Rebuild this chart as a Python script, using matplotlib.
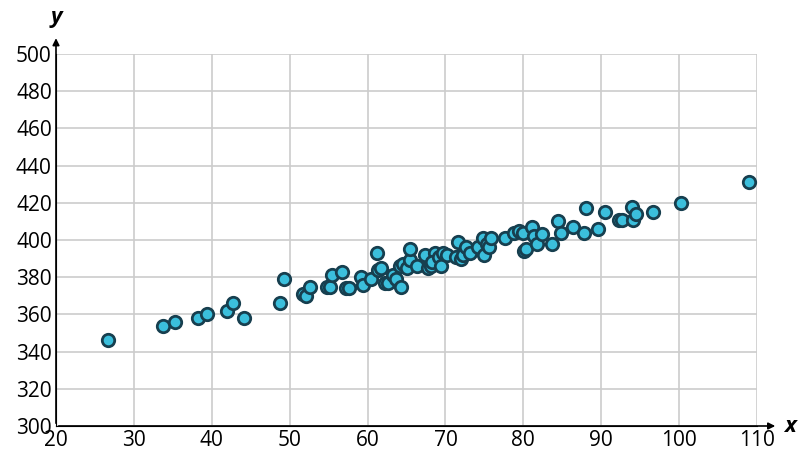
import matplotlib.pyplot as plt

plt.rcParams['font.family'] = ['Open Sans', 'DejaVu Sans']

x = [26.7, 33.8, 35.3, 38.2, 39.4, 41.9, 42.7, 44.2, 48.8, 49.3, 51.7, 52.1, 52.6, 54.8, 55.2,
     55.4, 56.7, 57.2, 57.6, 59.2, 59.4, 60.4, 61.2, 61.4, 61.7, 62.2, 62.6, 63.3, 63.7, 64.2,
     64.3, 64.6, 65.1, 65.4, 65.5, 66.3, 67.4, 67.8, 68.1, 68.6, 68.3, 69.2, 69.4, 69.7, 70.2,
     71.4, 71.6, 72.0, 72.3, 72.6, 73.2, 74.2, 74.8, 75.0, 75.3, 75.6, 75.8, 77.6, 78.8, 79.4,
     80.0, 80.1, 80.3, 81.1, 81.4, 81.7, 82.4, 83.7, 84.5, 84.9, 86.4, 87.8, 88.1, 89.6, 90.5,
     92.3, 92.7, 93.9, 94.1, 94.5, 96.7, 100.3, 109.0]
y = [346, 354, 356, 358, 360, 362, 366, 358, 366, 379, 371, 370, 375, 375, 375,
     381, 383, 374, 374, 380, 376, 379, 393, 384, 385, 377, 377, 381, 379, 386,
     375, 387, 385, 389, 395, 386, 392, 385, 386, 393, 388, 391, 386, 393, 392,
     391, 399, 390, 392, 396, 393, 396, 401, 392, 398, 396, 401, 401, 404, 405,
     404, 394, 395, 407, 402, 398, 403, 398, 410, 404, 407, 404, 417, 406, 415,
     411, 411, 418, 411, 414, 415, 420, 431]

fig = plt.figure(figsize=(7.99, 4.68), dpi=100)
ax = fig.add_axes([56/799, 42/468, 701/799, 372/468])
ax.scatter(x, y, s=80, color='#3bbfdc', edgecolor='#173f4f', linewidth=2, zorder=3)
ax.set_xlim(20, 110)
ax.set_ylim(300, 500)
ax.set_xticks(range(20, 111, 10))
ax.set_yticks(range(300, 501, 20))
ax.grid(color='#cccccc', linewidth=1.2)
ax.tick_params(labelsize=15, length=0, pad=3)
for s in ['top', 'right']:
    ax.spines[s].set_visible(False)
ax.annotate('', xy=(1.03, 0), xycoords='axes fraction', xytext=(0, 0),
            arrowprops=dict(arrowstyle='-|>', color='black', lw=1.2))
ax.annotate('', xy=(0, 1.05), xycoords='axes fraction', xytext=(0, 0),
            arrowprops=dict(arrowstyle='-|>', color='black', lw=1.2))
ax.text(1.038, 0, 'x', transform=ax.transAxes, fontsize=16, fontweight='bold',
        style='italic', va='center')
ax.text(0, 1.07, 'y', transform=ax.transAxes, fontsize=16, fontweight='bold',
        style='italic', ha='center', va='bottom')
fig.savefig('out.png', dpi=100)
